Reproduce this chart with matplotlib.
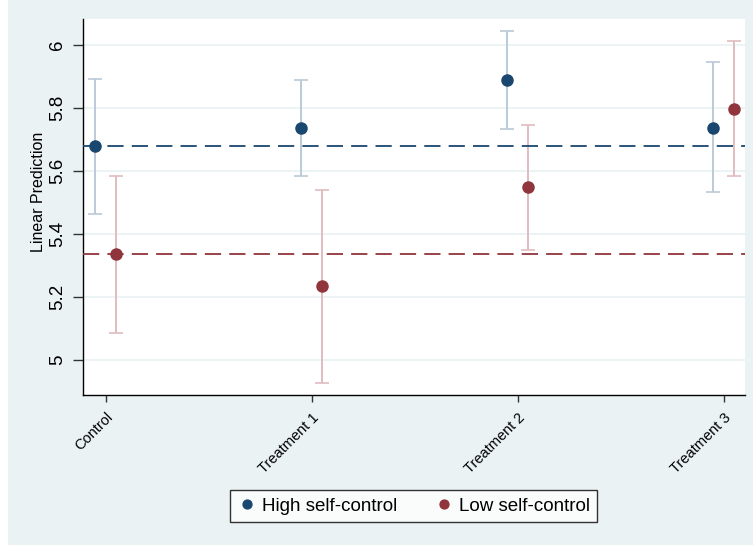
import matplotlib
matplotlib.use("Agg")
import matplotlib.pyplot as plt
from matplotlib.patches import Rectangle
import numpy as np

plt.rcParams['font.family'] = ['Liberation Sans', 'DejaVu Sans']

categories = ["Control", "Treatment 1", "Treatment 2", "Treatment 3"]

high_mean = [5.678, 5.737, 5.887, 5.737]
high_lo = [5.464, 5.584, 5.732, 5.531]
high_hi = [5.890, 5.888, 6.043, 5.944]

low_mean = [5.336, 5.233, 5.548, 5.797]
low_lo = [5.085, 4.928, 5.349, 5.583]
low_hi = [5.584, 5.539, 5.745, 6.010]

high_ref = 5.677
low_ref = 5.336

yticks = [5, 5.2, 5.4, 5.6, 5.8, 6]
ytick_labels = ["5", "5.2", "5.4", "5.6", "5.8", "6"]

navy = "#1A476F"
maroon = "#90353B"
navy_ci = "#BACAD8"
maroon_ci = "#E0BCC0"
bg = "#EAF2F3"

fig = plt.figure(figsize=(7.53, 5.5), dpi=100)
fig.patch.set_facecolor("white")
fig.add_artist(Rectangle((8 / 753, 5 / 550), 1 - 8 / 753, 1 - 5 / 550,
                         transform=fig.transFigure, facecolor=bg,
                         edgecolor="none", zorder=-10))

ax = fig.add_axes([82.7 / 753, 1 - 395 / 550, (745 - 82.7) / 753, (395 - 19) / 550])
ax.set_facecolor("white")

x = np.arange(len(categories))
off = 0.05

for i in range(len(categories)):
    ax.errorbar(x[i] - off, high_mean[i],
                yerr=[[high_mean[i] - high_lo[i]], [high_hi[i] - high_mean[i]]],
                fmt="none", ecolor=navy_ci, elinewidth=1.4, capsize=5,
                capthick=1.2, zorder=2)
    ax.errorbar(x[i] + off, low_mean[i],
                yerr=[[low_mean[i] - low_lo[i]], [low_hi[i] - low_mean[i]]],
                fmt="none", ecolor=maroon_ci, elinewidth=1.4, capsize=5,
                capthick=1.2, zorder=2)

ax.axhline(high_ref, color=navy, lw=1.3, ls=(0, (9, 4.5)), zorder=3)
ax.axhline(low_ref, color=maroon, lw=1.3, ls=(0, (9, 4.5)), zorder=3)

ax.plot(x - off, high_mean, "o", color=navy, ms=8, ls="none", zorder=4,
        label="High self-control")
ax.plot(x + off, low_mean, "o", color=maroon, ms=8, ls="none", zorder=4,
        label="Low self-control")

ax.set_xlim(-0.112, 3.103)
ax.set_ylim(4.889, 6.081)
ax.set_yticks(yticks)
ax.set_yticklabels(ytick_labels, rotation=90, va="center", fontsize=13.5)
ax.set_xticks(x)
ax.set_xticklabels(categories, rotation=45, ha="right",
                   rotation_mode="anchor", fontsize=10.5)
ax.grid(axis="y", color=bg, lw=1.3, zorder=0)
ax.set_axisbelow(True)

for s in ["top", "right"]:
    ax.spines[s].set_visible(False)
for s in ["left", "bottom"]:
    ax.spines[s].set_color("black")
    ax.spines[s].set_linewidth(1.0)
ax.tick_params(axis="both", width=1.0, color="#333333", labelcolor="black")
ax.tick_params(axis="y", length=7, pad=5)
ax.tick_params(axis="x", length=5, pad=6)

ax.set_ylabel("Linear Prediction", fontsize=11.5)
ax.yaxis.set_label_coords(-(82.7 - 46) / (745 - 82.7), (395 - 192) / (395 - 19))

leg = fig.legend(loc="center", bbox_to_anchor=(413.5 / 753, 1 - 506 / 550),
                 ncol=2, fontsize=13.5, frameon=True, fancybox=False,
                 handletextpad=0.3, columnspacing=2.0, handlelength=1.0,
                 borderpad=0.4, markerscale=0.8)
leg.get_frame().set_edgecolor("black")
leg.get_frame().set_linewidth(1.0)
leg.get_frame().set_facecolor("white")

fig.savefig("out.png", dpi=100, facecolor=fig.get_facecolor())
